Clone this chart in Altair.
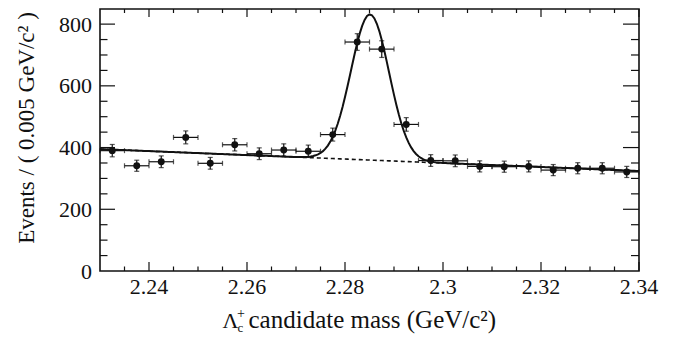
import altair as alt
import pandas as pd

# ---- data ----
mass = [2.2325, 2.2375, 2.2425, 2.2475, 2.2525, 2.2575, 2.2625, 2.2675, 2.2725, 2.2775, 2.2825,
        2.2875, 2.2925, 2.2975, 2.3025, 2.3075, 2.3125, 2.3175, 2.3225, 2.3275, 2.3325, 2.3375]
events = [390, 341, 354, 433, 349, 409, 380, 392, 388, 442, 742,
          719, 475, 358, 357, 339, 338, 339, 327, 333, 333, 321]
errors = [20, 18, 19, 21, 19, 20, 19, 20, 20, 21, 27,
          27, 22, 19, 19, 18, 18, 18, 18, 18, 18, 18]
bin_half = 0.0025

# fit parameters (gaussian + linear background)
fit_mean = [2.2851]
fit_sigma = [0.0039]
fit_amp = [472]
bg_at_low = [395]
bg_slope = [-645]

x_labels = [2.24, 2.26, 2.28, 2.30, 2.32, 2.34]
x_label_text = ["2.24", "2.26", "2.28", "2.3", "2.32", "2.34"]
x_minor = [2.235, 2.245, 2.25, 2.255, 2.265, 2.27, 2.275, 2.285, 2.29, 2.295,
           2.305, 2.31, 2.315, 2.325, 2.33, 2.335]
y_labels = [0, 200, 400, 600, 800]
y_label_text = ["0", "200", "400", "600", "800"]
y_major = [200, 400, 600, 800]
y_minor = [50, 100, 150, 250, 300, 350, 450, 500, 550, 650, 700, 750, 850]

ytitle = ["Events / ( 0.005 GeV/c\u00b2 )"]
xtitle_main = ["\u039b"]
xtitle_sub = ["c"]
xtitle_sup = ["+"]
xtitle_rest = ["candidate mass (GeV/c\u00b2)"]

# ---- layout ----
W, H = 539, 262
FONT = "Liberation Serif"
INK = "#111111"

xs = alt.Scale(domain=[2.23, 2.34], nice=False, zero=False)
ys = alt.Scale(domain=[0, 849], nice=False, zero=False)


def X(f):
    return alt.X(f, scale=xs, axis=None)


def Y(f):
    return alt.Y(f, scale=ys, axis=None)


df = pd.DataFrame({"m": mass, "n": events, "e": errors})
df["xlo"] = df["m"] - bin_half
df["xhi"] = df["m"] + bin_half
df["ylo"] = df["n"] - df["e"]
df["yhi"] = df["n"] + df["e"]

base = alt.Chart(df)

xerr = base.mark_rule(color=INK, strokeWidth=1.2).encode(x=X("xlo:Q"), x2="xhi:Q", y=Y("n:Q"))
yerr = base.mark_rule(color=INK, strokeWidth=1.2).encode(x=X("m:Q"), y=Y("ylo:Q"), y2="yhi:Q")
cap_xl = base.mark_tick(color=INK, orient="vertical", size=5, thickness=1.2).encode(
    x=X("xlo:Q"), y=Y("n:Q"))
cap_xh = base.mark_tick(color=INK, orient="vertical", size=5, thickness=1.2).encode(
    x=X("xhi:Q"), y=Y("n:Q"))
cap_yl = base.mark_tick(color=INK, orient="horizontal", size=5, thickness=1.2).encode(
    x=X("m:Q"), y=Y("ylo:Q"))
cap_yh = base.mark_tick(color=INK, orient="horizontal", size=5, thickness=1.2).encode(
    x=X("m:Q"), y=Y("yhi:Q"))
points = base.mark_circle(color=INK, opacity=1, size=48).encode(x=X("m:Q"), y=Y("n:Q"))

# fit curves
curve_src = alt.Chart(alt.sequence(start=0, stop=221, as_="i")).transform_calculate(
    x="2.23 + datum.i * 0.0005",
    bg=f"{bg_at_low[0]} + ({bg_slope[0]}) * (datum.x - 2.23)",
).transform_calculate(
    tot=f"datum.bg + {fit_amp[0]} * exp(-pow(datum.x - {fit_mean[0]}, 2) / (2 * pow({fit_sigma[0]}, 2)))"
)
bg_line = curve_src.mark_line(color=INK, strokeWidth=1.6, strokeDash=[4, 3]).encode(
    x=X("x:Q"), y=Y("bg:Q"))
tot_line = curve_src.mark_line(color=INK, strokeWidth=2).encode(x=X("x:Q"), y=Y("tot:Q"))


# inward ticks on all four sides
def xticks(vals, y0, y1):
    return alt.Chart(pd.DataFrame({"v": vals})).mark_rule(color=INK, strokeWidth=1.2).encode(
        x=X("v:Q"), y=alt.value(y0), y2=alt.value(y1))


def yticks(vals, x0, x1):
    return alt.Chart(pd.DataFrame({"v": [v for v in vals if v < 849]})).mark_rule(
        color=INK, strokeWidth=1.2).encode(y=Y("v:Q"), x=alt.value(x0), x2=alt.value(x1))


ticks = [
    xticks(x_labels, H, H - 9), xticks(x_minor, H, H - 4.5),
    xticks(x_labels, 0, 8), xticks(x_minor, 0, 4),
    yticks(y_major, 0, 15), yticks(y_minor, 0, 7.5),
    yticks(y_major, W, W - 16), yticks(y_minor, W, W - 8),
]

# tick labels
xlab = alt.Chart(pd.DataFrame({"v": x_labels, "t": x_label_text})).mark_text(
    font=FONT, fontSize=22, color=INK, align="center", baseline="alphabetic"
).encode(text="t:N", x=X("v:Q"), y=alt.value(H + 23))
ylab = alt.Chart(pd.DataFrame({"v": y_labels, "t": y_label_text})).mark_text(
    font=FONT, fontSize=22, color=INK, align="right", baseline="alphabetic", dy=7.5
).encode(text="t:N", y=Y("v:Q"), x=alt.value(-8))


# titles
def txt(vals, x, y, size, align="left", angle=0, baseline="alphabetic"):
    return alt.Chart(pd.DataFrame({"t": vals})).mark_text(
        font=FONT, fontSize=size, color=INK, align=align, baseline=baseline, angle=angle
    ).encode(text="t:N", x=alt.value(x), y=alt.value(y))


titles = [
    txt(ytitle, -73, 119, 23, align="center", angle=270, baseline="middle"),
    txt(xtitle_main, 122.5, 319, 22),
    txt(xtitle_sub, 137.5, 322.5, 13),
    txt(xtitle_sup, 137, 309, 14),
    txt(xtitle_rest, 148.5, 319, 25),
]

chart = alt.layer(
    *ticks, bg_line, tot_line, xerr, yerr, cap_xl, cap_xh, cap_yl, cap_yh, points,
    xlab, ylab, *titles
).properties(
    width=W, height=H,
    padding={"left": 92, "top": 1, "right": 25, "bottom": 64},
    autosize=alt.AutoSizeParams(type="none"),
).configure_view(
    stroke=INK, strokeWidth=1.6
)

chart.save("out.html", embed_options={"renderer": "svg", "actions": False})
